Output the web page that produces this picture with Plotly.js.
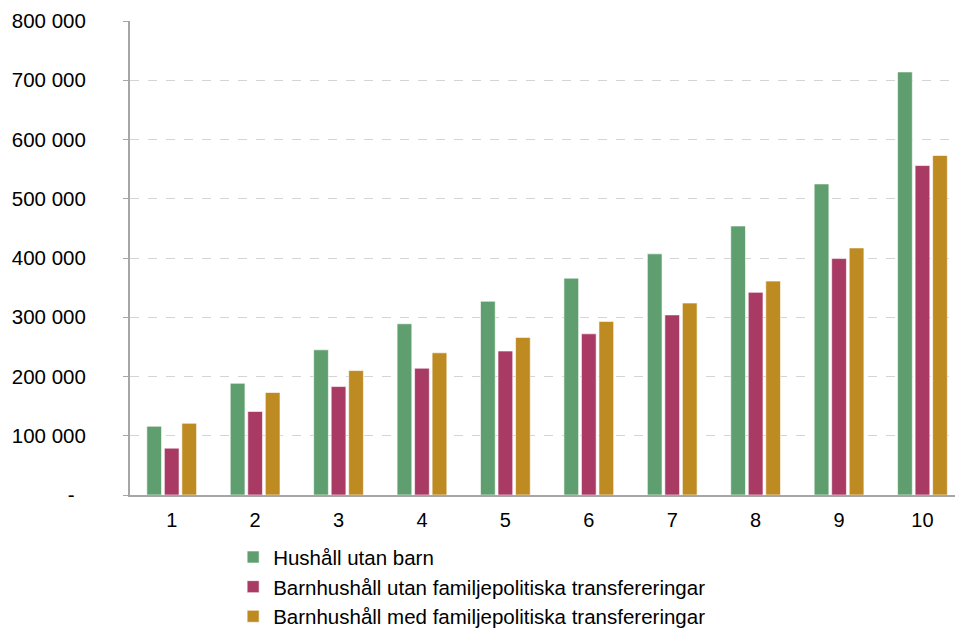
<!DOCTYPE html>
<html>
<head>
<meta charset="utf-8">
<script src="https://cdn.plot.ly/plotly-3.0.1.min.js"></script>
<style>html,body{margin:0;padding:0;background:#fff;}#chart{width:955px;height:631px;}</style>
</head>
<body>
<div id="chart"></div>
<script>
const categories = ["1","2","3","4","5","6","7","8","9","10"];
const seriesNames = ["Hushåll utan barn","Barnhushåll utan familjepolitiska transfereringar","Barnhushåll med familjepolitiska transfereringar"];
const hushallUtanBarn = [116000,188500,245000,289000,327000,366000,407000,454000,525000,714000];
const barnUtanTransf = [79000,141000,183000,214000,243000,272000,304000,342000,399000,556000];
const barnMedTransf = [121000,173000,210000,240000,266000,293000,324000,361000,417000,573000];
const yTickVals = [0,100000,200000,300000,400000,500000,600000,700000,800000];
const yTickText = ["-\u00A0\u00A0","100 000","200 000","300 000","400 000","500 000","600 000","700 000","800 000"];
const colors = ["#5f9e6e","#a83a64","#be8a22"];
const values = [hushallUtanBarn, barnUtanTransf, barnMedTransf];

const traces = values.map((v,i)=>({
  type:'bar', x:categories, y:v, name:seriesNames[i],
  marker:{color:colors[i], line:{color:'rgba(255,255,255,0.6)', width:1}},
  hoverinfo:'x+y'
}));

const layout = {
  width:955, height:631,
  margin:{l:130, r:0, t:21, b:136, autoexpand:false},
  paper_bgcolor:'#fff', plot_bgcolor:'#fff',
  font:{family:'Liberation Sans, Arial, sans-serif', size:20, color:'#000'},
  barmode:'group', bargap:0.37, bargroupgap:0.16,
  showlegend:true,
  legend:{x:0.125, y:-0.089, xanchor:'left', yanchor:'top', orientation:'v',
          font:{size:20.5, color:'#000'}, tracegroupgap:0, itemwidth:30, bgcolor:'rgba(0,0,0,0)'},
  xaxis:{type:'category', range:[-0.5, 9.39], showline:true, linecolor:'#a6a6a6', linewidth:2,
         ticks:'', showgrid:false, tickfont:{size:20}, ticklabelstandoff:6, fixedrange:true},
  yaxis:{range:[0,800000], tickvals:yTickVals, ticktext:yTickText, showline:true, linecolor:'#a6a6a6', linewidth:2,
         ticks:'outside', ticklen:5, tickcolor:'#a6a6a6', tickwidth:1,
         showgrid:true, gridcolor:'#d4d4d4', griddash:'dash', gridwidth:1,
         zeroline:false, tickfont:{size:20.5}, ticklabelstandoff:33, fixedrange:true}
};
Plotly.newPlot('chart', traces, layout, {displayModeBar:false, staticPlot:true});
</script>
</body>
</html>
